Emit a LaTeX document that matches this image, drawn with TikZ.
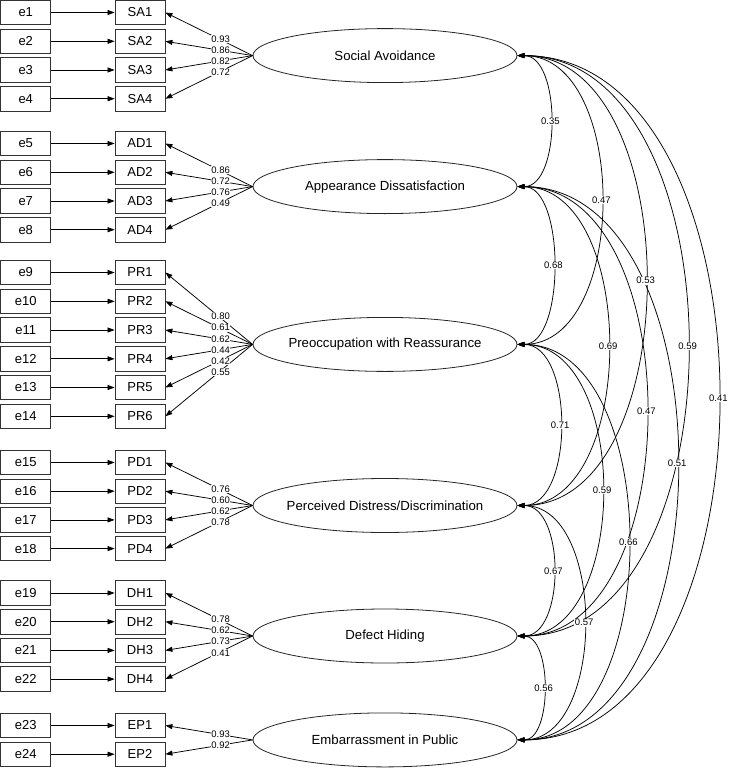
\documentclass[tikz,border=0pt]{standalone}
\usepackage{fontspec}
\setmainfont{Liberation Sans}
\usetikzlibrary{shapes.geometric,arrows.meta}
\begin{document}
\begin{tikzpicture}[x=1pt,y=-1pt,
  box/.style={draw=black!80,line width=0.8pt,minimum width=50pt,minimum height=24.5pt,inner sep=0pt,font=\fontsize{13}{15}\selectfont},
  lat/.style={ellipse,draw=black!85,line width=0.8pt,minimum width=264pt,minimum height=54pt,inner sep=0pt,font=\fontsize{13.2}{15}\selectfont},
  arr/.style={line width=0.75pt,-{Triangle[length=7pt,width=5pt]}},
  cov/.style={line width=0.75pt,{Triangle[length=7pt,width=5pt]}-{Triangle[length=7pt,width=5pt]}},
  lbl/.style={fill=white,inner sep=0.6pt,font=\fontsize{9.5}{10}\selectfont}
]
\useasboundingbox (0,0) rectangle (728,768);
% observed indicators and error terms
\foreach \i/\nm/\y in {1/SA1/12.5,2/SA2/41.3,3/SA3/70,4/SA4/98.7,
  5/AD1/143.5,6/AD2/172.3,7/AD3/201,8/AD4/229.7,
  9/PR1/272.5,10/PR2/301.3,11/PR3/330,12/PR4/358.8,13/PR5/387.5,14/PR6/416.3,
  15/PD1/462.5,16/PD2/491.2,17/PD3/519.9,18/PD4/548.6,
  19/DH1/593,20/DH2/621.7,21/DH3/650.4,22/DH4/679.1,
  23/EP1/725.5,24/EP2/754.2}{
  \node[box] (e\i) at (25.75,\y) {e\i};
  \node[box] (\nm) at (140,\y) {\nm};
  \draw[arr] (e\i.east) -- (\nm.west);
}
% latent variables
\node[lat] (SA) at (385,55.6) {\makebox[0pt]{Social Avoidance}};
\node[lat] (AD) at (385,186.6) {\makebox[0pt]{Appearance Dissatisfaction}};
\node[lat] (PR) at (385,344.4) {\makebox[0pt]{Preoccupation with Reassurance}};
\node[lat] (PD) at (385,505.5) {\makebox[0pt]{Perceived Distress/Discrimination}};
\node[lat] (DH) at (385,636) {\makebox[0pt]{Defect Hiding}};
\node[lat] (EP) at (385,739.9) {\makebox[0pt]{Embarrassment in Public}};
% loadings
\def\loadlist{SA/SA1/0.93,SA/SA2/0.86,SA/SA3/0.82,SA/SA4/0.72,
  AD/AD1/0.86,AD/AD2/0.72,AD/AD3/0.76,AD/AD4/0.49,
  PR/PR1/0.80,PR/PR2/0.61,PR/PR3/0.62,PR/PR4/0.44,PR/PR5/0.42,PR/PR6/0.55,
  PD/PD1/0.76,PD/PD2/0.60,PD/PD3/0.62,PD/PD4/0.78,
  DH/DH1/0.78,DH/DH2/0.62,DH/DH3/0.73,DH/DH4/0.41,
  EP/EP1/0.93,EP/EP2/0.92}
\foreach \p/\q/\v in \loadlist{
  \draw[arr] (\p.west) -- (\q.east);
}
% covariances
\def\covlist{SA/AD/44/0.35,SA/PR/112/0.47,SA/PD/171/0.53,SA/DH/227/0.59,SA/EP/268/0.41,
  AD/PR/48/0.68,AD/PD/121/0.69,AD/DH/172/0.47,AD/EP/213/0.51,
  PR/PD/57/0.71,PR/DH/113/0.59,PR/EP/148/0.66,
  PD/DH/48/0.67,PD/EP/89/0.57,DH/EP/35/0.56}
\foreach \p/\q/\d/\v in \covlist{
  \draw[cov] (\p.east) .. controls +(\d,0) and +(\d,0) .. (\q.east);
}
% labels on top
\foreach \p/\q/\v in \loadlist{
  \path (\p.west) -- (\q.east) node[pos=0.39,xshift=2pt,lbl] {\v};
}
\foreach \p/\q/\d/\v in \covlist{
  \path (\p.east) .. controls +(\d,0) and +(\d,0) .. node[lbl] {\v} (\q.east);
}
\end{tikzpicture}
\end{document}
